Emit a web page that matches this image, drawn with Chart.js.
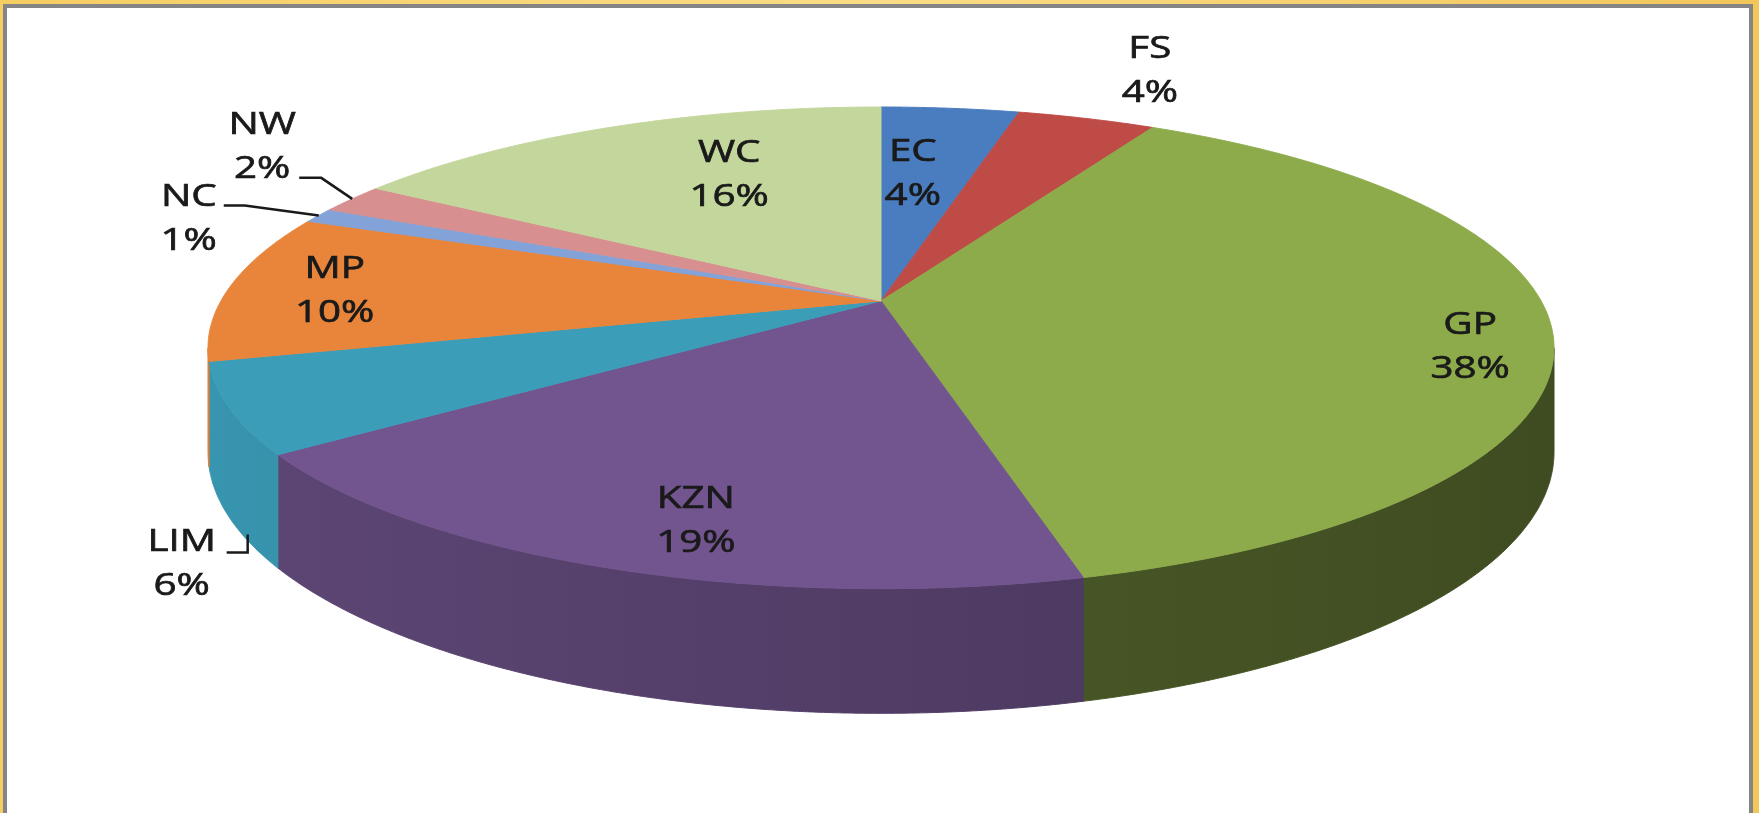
<!DOCTYPE html>
<html>

<head>
    <title>Share by province</title>
    <script src="https://cdn.jsdelivr.net/npm/chart.js"></script>
    <style>
        body { margin: 0; width: 1759px; height: 813px; overflow: hidden; background: linear-gradient(90deg, #f6cd62, #fbdc86 50%, #f3c65a); }
        #frame { position: absolute; left: 3px; top: 4px; width: 1750px; height: 820px; box-sizing: border-box; border: 4px solid #858585; border-bottom: none; background: #fff; }
        #pieChart { position: absolute; left: 0; top: 0; }
    </style>
</head>

<body>
<div id="frame"></div>
<canvas id="pieChart" width="1759" height="813"></canvas>
<script>
    var regions = ['EC', 'FS', 'GP', 'KZN', 'LIM', 'MP', 'NC', 'NW', 'WC'];
    var shares = [4, 4, 38, 19, 6, 10, 1, 2, 16];

    var sliceColors = ['#4a7dbf', '#bf4b47', '#8dab4b', '#72558f', '#3b9db8', '#e8853b', '#82a2d8', '#d88f90', '#c3d79c'];
    var wallDark = [0.8, 0.7, 0.6, 0.82, 0.95, 0.95, 0.9, 0.9, 0.9];

    // where each data label sits: radius fraction along the slice's middle, then a nudge
    var labelPlace = {
        EC: { f: 0.62, dx: -14, dy: 1 },
        FS: { f: 1.32, dx: 10, dy: 0 },
        GP: { f: 0.87, dx: 7, dy: 20 },
        KZN: { f: 0.85, dx: 40, dy: 1 },
        LIM: { f: 1, dx: -48, dy: 156, leader: [[45, -12], [66, -12], [66, -30]] },
        MP: { f: 0.83, dx: -5, dy: 2 },
        NC: { f: 1, dx: -130, dy: 4, leader: [[35, -14], [56, -14]], toRim: true },
        NW: { f: 1, dx: -90, dy: -52, leader: [[37, 31], [59, 31]], toRim: true },
        WC: { f: 0.7, dx: 47, dy: 1 }
    };

    function shade(hex, k) {
        var n = parseInt(hex.slice(1), 16);
        var r = Math.round(((n >> 16) & 255) * k), g = Math.round(((n >> 8) & 255) * k), b = Math.round((n & 255) * k);
        return 'rgb(' + r + ',' + g + ',' + b + ')';
    }

    function getGeo(chart) {
        var area = chart.chartArea;
        var p = 0.195;
        var a = (area.right - area.left) / 2 * Math.sqrt(1 - p * p);
        var b = a * 0.351;
        return { p: p, a: a, b: b, t: a * 0.152, x0: (area.left + area.right) / 2, y0: area.top + b / (1 + p), left: area.left, right: area.right };
    }

    function project(geo, ang, f, depth) {
        var u = Math.cos(ang), v = Math.sin(ang);
        var s = 1 / (1 - geo.p * f * v);
        return { x: geo.x0 + geo.a * f * u * s, y: geo.y0 + geo.b * f * v * s + (depth || 0) * geo.t * s };
    }

    var pie3d = {
        id: 'pie3d',
        beforeDatasetsDraw: function (chart) {
            var ctx = chart.ctx;
            var geo = getGeo(chart);
            var arcs = chart.getDatasetMeta(0).data;
            var step = 0.004;
            var visFrom = Math.asin(geo.p), visTo = Math.PI - Math.asin(geo.p);

            // side walls (only the front part can be seen)
            arcs.forEach(function (arc, i) {
                var a0 = Math.max(arc.startAngle, visFrom), a1 = Math.min(arc.endAngle, visTo);
                if (a1 <= a0) return;
                var grad = ctx.createLinearGradient(geo.left, 0, geo.right, 0);
                grad.addColorStop(0, shade(sliceColors[i], wallDark[i]));
                grad.addColorStop(1, shade(sliceColors[i], wallDark[i] * 0.74));
                ctx.beginPath();
                var a, pt;
                for (a = a0; a < a1; a += step) {
                    pt = project(geo, a, 1, 0);
                    ctx.lineTo(pt.x, pt.y);
                }
                pt = project(geo, a1, 1, 0);
                ctx.lineTo(pt.x, pt.y);
                for (a = a1; a > a0; a -= step) {
                    pt = project(geo, a, 1, 1);
                    ctx.lineTo(pt.x, pt.y);
                }
                pt = project(geo, a0, 1, 1);
                ctx.lineTo(pt.x, pt.y);
                ctx.closePath();
                ctx.fillStyle = grad;
                ctx.strokeStyle = grad;
                ctx.lineWidth = 1;
                ctx.fill();
                ctx.stroke();
            });

            // top faces
            arcs.forEach(function (arc, i) {
                ctx.beginPath();
                ctx.moveTo(geo.x0, geo.y0);
                var a, pt;
                for (a = arc.startAngle; a < arc.endAngle; a += step) {
                    pt = project(geo, a, 1, 0);
                    ctx.lineTo(pt.x, pt.y);
                }
                pt = project(geo, arc.endAngle, 1, 0);
                ctx.lineTo(pt.x, pt.y);
                ctx.closePath();
                ctx.fillStyle = sliceColors[i];
                ctx.strokeStyle = sliceColors[i];
                ctx.lineWidth = 1;
                ctx.fill();
                ctx.stroke();
            });

            // data labels
            ctx.fillStyle = '#1a1a1a';
            ctx.strokeStyle = '#1a1a1a';
            ctx.font = '31px "Open Sans"';
            ctx.textAlign = 'center';
            ctx.textBaseline = 'middle';
            arcs.forEach(function (arc, i) {
                var place = labelPlace[regions[i]];
                var mid = (arc.startAngle + arc.endAngle) / 2;
                var anchor = project(geo, mid, place.f, 0);
                var cx = anchor.x + place.dx, cy = anchor.y + place.dy;
                ctx.save();
                ctx.translate(cx, cy);
                ctx.scale(1.3, 1);
                ctx.lineWidth = 0.7;
                ctx.fillText(regions[i], 0, -22);
                ctx.strokeText(regions[i], 0, -22);
                ctx.fillText(shares[i] + '%', 0, 22);
                ctx.strokeText(shares[i] + '%', 0, 22);
                ctx.restore();
                if (place.leader) {
                    ctx.beginPath();
                    ctx.lineWidth = 2.5;
                    place.leader.forEach(function (d, k) {
                        if (k === 0) ctx.moveTo(cx + d[0], cy + d[1]);
                        else ctx.lineTo(cx + d[0], cy + d[1]);
                    });
                    if (place.toRim) ctx.lineTo(anchor.x, anchor.y);
                    ctx.stroke();
                }
            });
            return false;
        }
    };

    var chart = new Chart(document.getElementById('pieChart').getContext('2d'), {
        type: 'pie',
        data: {
            labels: regions,
            datasets: [{
                data: shares,
                backgroundColor: sliceColors,
                borderWidth: 0
            }]
        },
        options: {
            responsive: false,
            animation: false,
            layout: {
                padding: { left: 208, right: 205, top: 107, bottom: 101 }
            },
            plugins: {
                legend: { display: false },
                tooltip: { enabled: false }
            }
        },
        plugins: [pie3d]
    });
</script>
</body>

</html>
